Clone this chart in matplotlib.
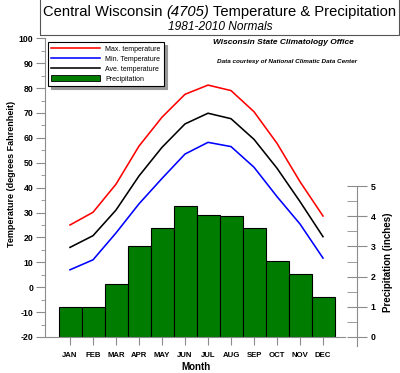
import matplotlib
matplotlib.use("Agg")
import matplotlib.pyplot as plt
from matplotlib.patches import Rectangle
from matplotlib.lines import Line2D
from matplotlib.ticker import MultipleLocator

months = ["JAN", "FEB", "MAR", "APR", "MAY", "JUN",
          "JUL", "AUG", "SEP", "OCT", "NOV", "DEC"]
max_temp = [25.0, 30.1, 41.4, 56.7, 68.3, 77.5, 81.2, 79.0, 70.5, 57.8, 42.4, 28.6]
ave_temp = [16.0, 20.7, 31.0, 44.7, 56.2, 65.6, 69.9, 67.7, 59.4, 47.8, 34.4, 20.3]
min_temp = [7.0, 11.0, 21.8, 33.5, 43.7, 53.5, 58.2, 56.5, 48.2, 36.4, 25.4, 11.7]
precip = [1.01, 0.99, 1.75, 3.0, 3.6, 4.34, 4.03, 4.02, 3.6, 2.53, 2.10, 1.34]

plt.rcParams["font.family"] = ["Liberation Sans", "DejaVu Sans"]
plt.rcParams["axes.unicode_minus"] = False

W, H = 400, 373
fig = plt.figure(figsize=(W / 100, H / 100), dpi=100)


def fx(px):
    return px / W


def fy(py):
    return 1 - py / H


AX_GRAY = "#8c8c8c"

ax = fig.add_axes([fx(45), fy(337), fx(357) - fx(45), fy(38.3) - fy(337)])
x = list(range(len(months)))
ax.set_xlim(-1.087, 12.478)
ax.set_ylim(-20, 100)

ax2 = ax.twinx()
ax2.set_ylim(0, 9.9)
ax2.bar(x, precip, width=1.0, color="#007d00", edgecolor="black", linewidth=0.8)

ax.plot(x, max_temp, color="#ff0000", lw=1.15)
ax.plot(x, ave_temp, color="black", lw=1.15)
ax.plot(x, min_temp, color="#0000ff", lw=1.15)
ax.set_zorder(ax2.get_zorder() + 1)
ax.patch.set_visible(False)

for s in ["top", "right"]:
    ax.spines[s].set_visible(False)
for s in ["top", "left", "bottom"]:
    ax2.spines[s].set_visible(False)
ax.spines["left"].set_color(AX_GRAY)
ax.spines["bottom"].set_color(AX_GRAY)
ax.spines["bottom"].set_bounds(-1.087, 11.96)
ax2.spines["right"].set_color(AX_GRAY)
ax2.spines["right"].set_bounds(-0.3, 5)

ax.set_xticks(x)
ax.set_xticklabels(months, fontsize=5.6, fontweight="bold")
ax.tick_params(axis="x", length=5.8, color=AX_GRAY, pad=5.0)
ax.yaxis.set_major_locator(MultipleLocator(10))
ax.yaxis.set_minor_locator(MultipleLocator(5))
ax.tick_params(axis="y", which="major", length=6.5, color=AX_GRAY, pad=2,
               labelsize=6.3)
ax.tick_params(axis="y", which="minor", length=3, color=AX_GRAY)
for lab in ax.get_yticklabels():
    lab.set_fontweight("bold")

ax2.set_yticks([0, 1, 2, 3, 4, 5])
ax2.set_yticks([0.5, 1.5, 2.5, 3.5, 4.5], minor=True)
ax2.tick_params(axis="y", which="major", direction="inout", length=13.7,
                color=AX_GRAY, pad=3, labelsize=6.3)
ax2.tick_params(axis="y", which="minor", direction="in", length=7,
                color=AX_GRAY)
for lab in ax2.get_yticklabels():
    lab.set_fontweight("bold")

fig.text(fx(196), fy(366.5), "Month", ha="center", va="center",
         fontsize=7, fontweight="bold")
fig.text(fx(12), fy(173.5), "Temperature (degrees Fahrenheit)", ha="center",
         va="center", rotation=90, fontsize=6.5, fontweight="bold")
fig.text(fx(388), fy(262), "Precipitation (inches)", ha="center",
         va="center", rotation=90, fontsize=7, fontweight="bold")

# title box
fig.patches.append(Rectangle((fx(39.5), fy(34.7)), fx(399.3) - fx(39.5),
                             fy(-2) - fy(34.7), transform=fig.transFigure,
                             fill=False, edgecolor="#555555", lw=0.8))
parts = [("Central Wisconsin ", "normal"), ("(4705)", "italic"),
         (" Temperature & Precipitation", "normal")]
renderer = fig.canvas.get_renderer()
texts = []
for s, style in parts:
    t = fig.text(0, fy(12), s, fontsize=10.6, style=style, va="center", ha="left")
    texts.append(t)
widths = [t.get_window_extent(renderer).width for t in texts]
start = 219.5 - sum(widths) / 2
for t, w in zip(texts, widths):
    t.set_x(fx(start))
    start += w
fig.text(fx(220), fy(27), "1981-2010 Normals", fontsize=8.6, style="italic",
         ha="center", va="center")

fig.text(fx(283), fy(43), "Wisconsin State Climatology Office", fontsize=6,
         style="italic", fontweight="bold", ha="center", va="center")
fig.text(fx(287), fy(62), "Data courtesy of National Climatic Data Center",
         fontsize=4.6, style="italic", fontweight="bold", ha="center",
         va="center")

handles = [Line2D([], [], color="#ff0000", lw=1.15),
           Line2D([], [], color="#0000ff", lw=1.15),
           Line2D([], [], color="black", lw=1.15),
           Rectangle((0, 0), 1, 1, facecolor="#007d00", edgecolor="black", lw=0.6)]
labels = ["Max. temperature", "Min. Temperature", "Ave. temperature",
          "Precipitation"]
leg = fig.legend(handles, labels, loc="upper left",
                 bbox_to_anchor=(fx(48), fy(42)), bbox_transform=fig.transFigure,
                 fontsize=5, handlelength=7.0, handleheight=1.0,
                 labelspacing=0.35, handletextpad=0.7, borderpad=0.5,
                 borderaxespad=0, fancybox=False, edgecolor="black",
                 framealpha=1,
                 shadow={"color": "0.6", "alpha": 1, "ox": 2, "oy": -2})
leg.get_frame().set_linewidth(0.8)

fig.savefig("out.png", dpi=100)
